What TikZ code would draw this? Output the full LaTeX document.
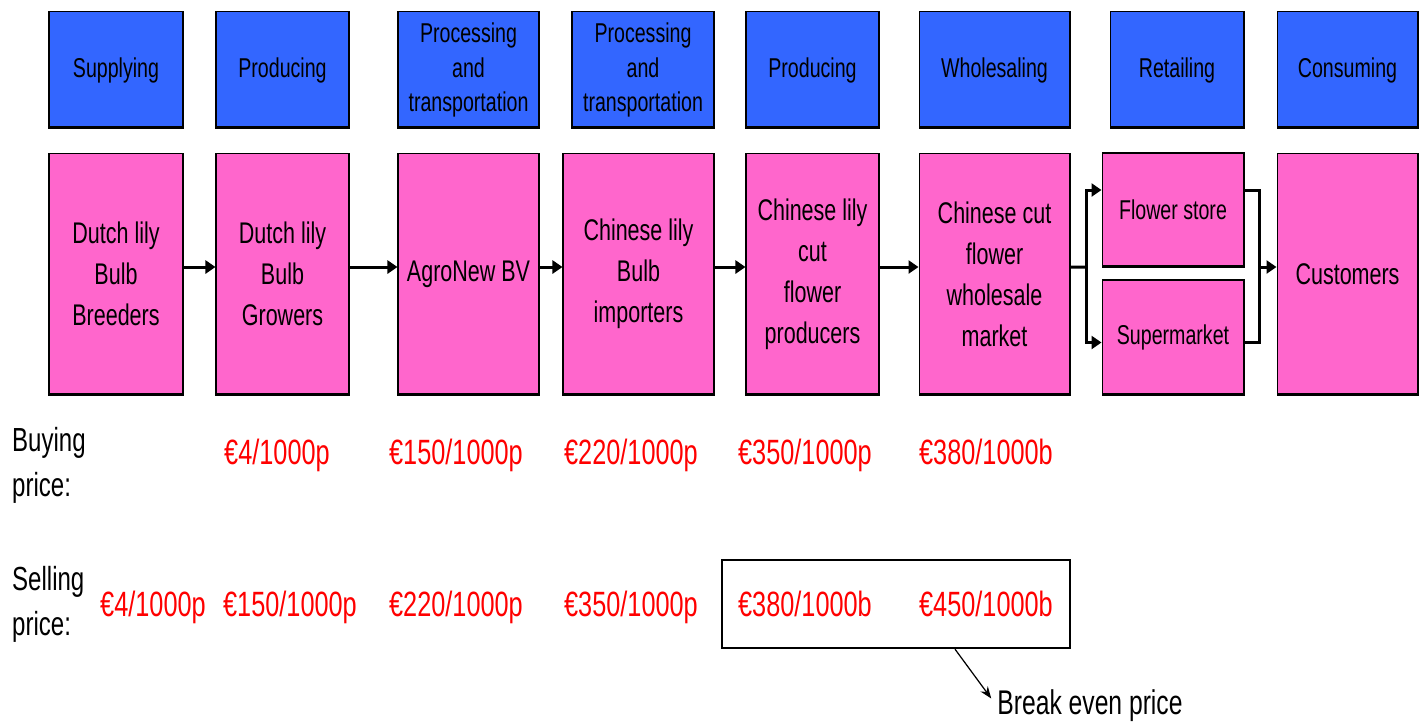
\documentclass[tikz,border=0pt]{standalone}
\usepackage{fontspec}
\setmainfont[FakeStretch=0.72]{Liberation Sans}
\usetikzlibrary{arrows.meta, positioning}
\definecolor{stageblue}{HTML}{3366FF}
\definecolor{chainpink}{HTML}{FF66CC}

\begin{document}
\begin{tikzpicture}[
        x=0.02cm, y=-0.02cm,
        bottomline/.style={path picture={\draw[line width=2.6pt] (path picture bounding box.south west) -- (path picture bounding box.south east);}},
        stage/.style={rectangle, draw=black, line width=0.6pt, fill=stageblue, minimum height=2.34cm, inner sep=1pt, align=center, font=\fontsize{15.5}{19.4}\selectfont, bottomline},
        actor/.style={rectangle, draw=black, line width=0.6pt, fill=chainpink, minimum height=4.84cm, inner sep=1pt, align=center, font=\fontsize{17}{23.3}\selectfont, bottomline},
        shop/.style={actor, minimum width=2.84cm, font=\fontsize{15.5}{19}\selectfont},
        price/.style={anchor=base, text=red, font=\fontsize{20}{24}\selectfont},
        caption/.style={anchor=north west, align=left, font=\fontsize{19}{25.6}\selectfont},
        link/.style={line width=1.7pt},
        flow/.style={link, -{Triangle[length=2mm, width=2.6mm]}},
        pointer/.style={line width=0.7pt, -{Stealth[length=2.4mm, width=1.8mm]}}
    ]
        \useasboundingbox (0,0) rectangle (1426,725);

        % Top row - chain stages
        \node[stage, minimum width=2.68cm] (supplying) at (116,70) {Supplying};
        \node[stage, minimum width=2.66cm] (producing) at (282.5,70) {Producing};
        \node[stage, minimum width=2.82cm] (processing) at (468.5,70) {Processing\\and\\transportation};
        \node[stage, minimum width=2.84cm] (transport) at (643,70) {Processing\\and\\transportation};
        \node[stage, minimum width=2.66cm] (cutflower) at (812.5,70) {Producing};
        \node[stage, minimum width=3.02cm] (wholesaling) at (994.5,70) {Wholesaling};
        \node[stage, minimum width=2.68cm] (retailing) at (1177,70) {Retailing};
        \node[stage, minimum width=2.82cm] (consuming) at (1347.5,70) {Consuming};

        % Second row - chain actors
        \node[actor, minimum width=2.68cm] (breeders) at (116,274) {Dutch lily\\Bulb\\Breeders};
        \node[actor, minimum width=2.66cm] (growers) at (282.5,274) {Dutch lily\\Bulb\\Growers};
        \node[actor, minimum width=2.82cm] (agronew) at (468.5,274) {AgroNew BV};
        \node[actor, minimum width=3.02cm] (importers) at (638.5,274) {Chinese lily\\Bulb\\importers};
        \node[actor, minimum width=2.66cm] (producers) at (812.5,274) {Chinese lily\\cut\\flower\\producers};
        \node[actor, minimum width=3.02cm] (market) at (994.5,274) {Chinese cut\\flower\\wholesale\\market};
        \node[shop, minimum height=2.28cm] (store) at (1173,210) {Flower store};
        \node[shop, minimum height=2.3cm] (supermarket) at (1173,337.5) {Supermarket};
        \node[actor, minimum width=2.82cm] (customers) at (1347.5,274) {Customers};

        % Flow of goods
        \foreach \a/\b in {breeders/growers, growers/agronew, agronew/importers, importers/producers, producers/market}
            \draw[flow] ([yshift=1.4mm]\a.east) -- ([yshift=1.4mm]\b.west);
        \coordinate (fork) at (1086,267);
        \coordinate (join) at (1259,267);
        \draw[link] ([yshift=1.4mm]market.east) -- (fork);
        \draw[flow] (fork) |- ([yshift=4mm]store.west);
        \draw[flow] (fork) |- ([yshift=-1mm]supermarket.west);
        \draw[link] ([yshift=4mm]store.east) -| (join);
        \draw[link] ([yshift=-1mm]supermarket.east) -| (join);
        \draw[flow] (join) -- (join -| customers.west);

        % Buying prices
        \node[caption] (buying) at (6,421) {Buying\\price:};
        \node[price] (buygrowers) at (277,464) {€4/1000p};
        \node[price] (buyagronew) at (456,464) {€150/1000p};
        \node[price] (buyimporters) at (631,464) {€220/1000p};
        \node[price] (buyproducers) at (805,464) {€350/1000p};
        \node[price] (buymarket) at (986,464) {€380/1000b};

        % Selling prices
        \node[caption] (selling) at (6,560) {Selling\\price:};
        \node[price] (sellbreeders) at (153,616) {€4/1000p};
        \node[price] (sellgrowers) at (290,616) {€150/1000p};
        \node[price] (sellagronew) at (456,616) {€220/1000p};
        \node[price] (sellimporters) at (631,616) {€350/1000p};
        \node[price] (sellproducers) at (805,616) {€380/1000b};
        \node[price] (sellmarket) at (986,616) {€450/1000b};

        % Break even
        \node[draw, line width=1.3pt, minimum width=6.96cm, minimum height=1.76cm] (evenbox) at (896,604) {};
        \node[font=\fontsize{19.5}{24}\selectfont] (breakeven) at (1090,706) {Break even price};
        \draw[pointer] ([xshift=1.18cm]evenbox.south) -- ([yshift=1.5mm]breakeven.west);
    \end{tikzpicture}
\end{document}
